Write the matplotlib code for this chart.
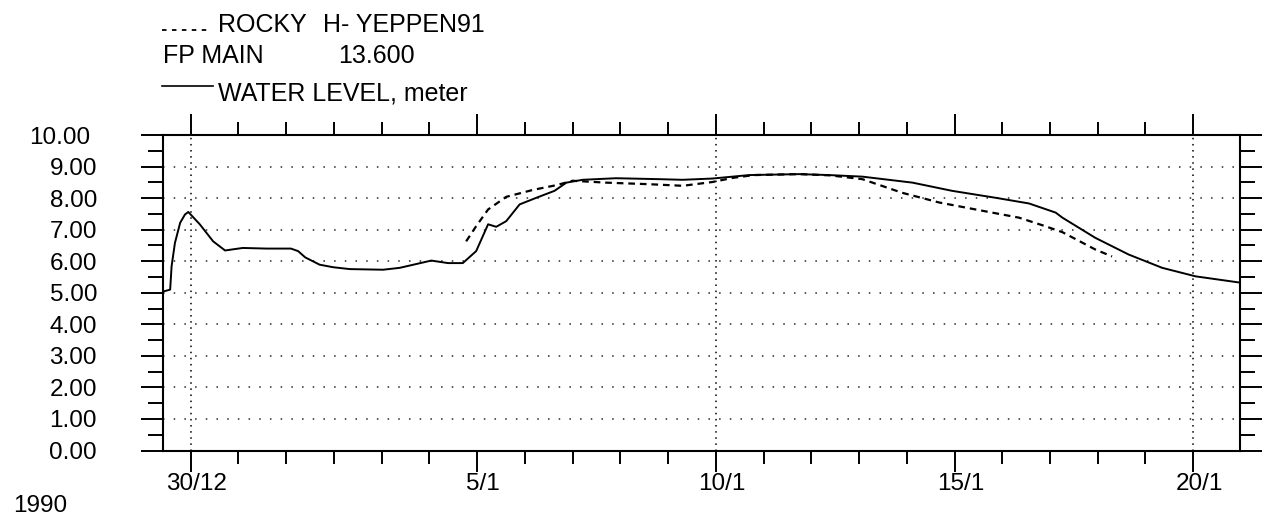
import numpy as np
import matplotlib.pyplot as plt
from matplotlib.lines import Line2D
from matplotlib.transforms import ScaledTranslation

plt.rcParams['font.family'] = ['Liberation Sans', 'DejaVu Sans']

# days counted from 30/12/1990
wl_day = [-0.57, -0.43, -0.40, -0.33, -0.22, -0.12, -0.05, 0.19, 0.47, 0.72, 1.09,
          1.59, 2.10, 2.25, 2.40, 2.70, 2.98, 3.33, 4.03, 4.38, 5.04, 5.39, 5.70, 5.98,
          6.23, 6.40, 6.61, 6.89, 7.24, 7.62, 7.87, 8.21, 8.91, 9.82, 10.30, 10.93,
          11.70, 12.75, 13.37, 14.07, 15.12, 15.95, 16.86, 17.56, 18.12, 18.26,
          18.95, 19.65, 20.35, 21.05, 21.94]
wl_val = [5.04, 5.10, 5.84, 6.58, 7.22, 7.48, 7.56, 7.17, 6.63, 6.34, 6.42,
          6.40, 6.40, 6.32, 6.12, 5.89, 5.81, 5.75, 5.73, 5.79, 6.02, 5.94, 5.94, 6.32,
          7.17, 7.09, 7.27, 7.80, 8.01, 8.23, 8.49, 8.58, 8.63, 8.60, 8.58, 8.62,
          8.73, 8.76, 8.73, 8.68, 8.49, 8.23, 8.01, 7.83, 7.54, 7.38,
          6.74, 6.21, 5.79, 5.52, 5.33]

rk_day = [5.77, 5.98, 6.23, 6.61, 7.17, 7.66, 8.00, 8.70, 9.61, 10.31, 10.93,
          11.35, 11.80, 12.75, 13.40, 14.07, 14.90, 15.68, 16.51, 17.35, 17.90,
          18.26, 18.95, 19.30]
rk_val = [6.63, 7.11, 7.64, 8.04, 8.26, 8.41, 8.55, 8.49, 8.44, 8.39, 8.51,
          8.64, 8.73, 8.76, 8.72, 8.60, 8.17, 7.86, 7.62, 7.38, 7.11,
          6.92, 6.37, 6.15]

x_tick_pos = [0, 6, 11, 16, 21]
x_tick_lab = ['30/12', '5/1', '10/1', '15/1', '20/1']
x_grid_pos = [0, 11, 21]
y_ticks = np.arange(0, 11, 1)
y_tick_lab = ['%.2f' % v for v in y_ticks]

W, H = 1271, 518
fig = plt.figure(figsize=(W / 100, H / 100), dpi=100)
ax = fig.add_axes([163 / W, 67.5 / H, (1240 - 163) / W, (450.5 - 135) / H])

# grid dots
for yv in range(1, 10):
    ax.axhline(yv, color='black', lw=1.1, ls=(0, (1, 6)), alpha=0.85, zorder=1)
for xv in x_grid_pos:
    ax.axvline(xv, color='black', lw=1.1, ls=(0, (1, 3)), zorder=1)

ax.plot(wl_day, wl_val, color='black', lw=1.4, zorder=3)
ax.plot(rk_day, rk_val, color='black', lw=1.6, ls=(0, (3, 2.2)), zorder=3)

ax.set_xlim(-0.58, 21.98)
ax.set_ylim(0, 10)

for s in ax.spines.values():
    s.set_linewidth(1.5)

ax.set_xticks(x_tick_pos)
ax.set_xticklabels(x_tick_lab, fontsize=17.5)
ax.set_xticks(np.arange(0, 22, 1), minor=True)
ax.set_yticks(y_ticks)
ax.set_yticklabels(y_tick_lab, fontsize=17.5)
ax.set_yticks(np.arange(0.5, 10, 1), minor=True)

ax.tick_params(axis='x', which='major', direction='out', length=15, width=1.4,
               top=True, bottom=True, pad=1)
ax.tick_params(axis='x', which='minor', direction='out', length=9.5, width=1.4,
               top=True, bottom=True)
ax.tick_params(axis='y', which='major', direction='out', length=16, width=1.4,
               left=True, right=True, pad=31.5)
ax.tick_params(axis='y', which='minor', direction='out', length=10.5, width=1.4,
               left=True, right=True)

off = ScaledTranslation(6 / 100, 0, fig.dpi_scale_trans)
for lab in ax.get_xticklabels():
    lab.set_transform(lab.get_transform() + off)
ylabs = ax.get_yticklabels()
ylabs[-1].set_transform(ylabs[-1].get_transform() + ScaledTranslation(-7 / 100, 0, fig.dpi_scale_trans))

# header legend
def fx(px):
    return px / W

def fy(py):
    return 1 - py / H

fig.add_artist(Line2D([fx(162), fx(210)], [fy(30), fy(30)], color='black', lw=1.3,
                      ls=(0, (2.5, 3))))
fig.text(fx(218), fy(31.7), 'ROCKY', fontsize=18, va='baseline')
fig.text(fx(323), fy(31.7), 'H- YEPPEN91', fontsize=18, va='baseline')
fig.text(fx(163), fy(63.3), 'FP MAIN', fontsize=18, va='baseline')
fig.text(fx(338), fy(63.3), '13.600', fontsize=18, va='baseline')
fig.add_artist(Line2D([fx(162), fx(213)], [fy(86), fy(86)], color='black', lw=1.2))
fig.text(fx(218), fy(100), 'WATER LEVEL, meter', fontsize=18, va='baseline')

fig.text(fx(13), fy(512), '1990', fontsize=17.5, va='baseline')

fig.savefig('out.png', dpi=100)
